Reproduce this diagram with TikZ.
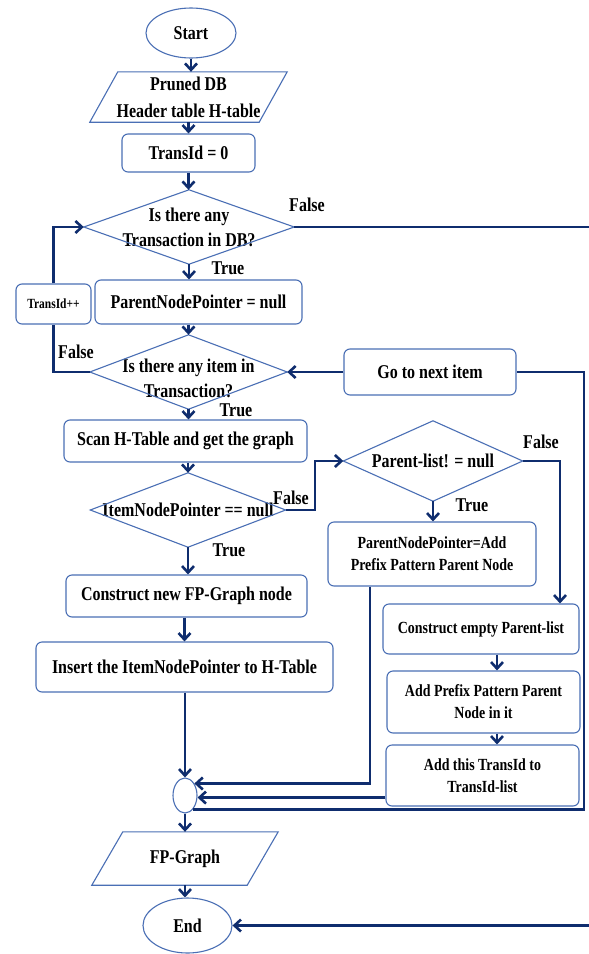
\documentclass[tikz,border=0pt]{standalone}
\usepackage{fontspec}
\setmainfont{Liberation Serif}[FakeStretch=0.82]
\usetikzlibrary{shapes.geometric,arrows.meta,calc}
\definecolor{boxc}{HTML}{4A6FB5}
\definecolor{linec}{HTML}{0F2D6E}
\newcommand{\myfs}[2]{\fontsize{#1}{#2}\selectfont\bfseries}
\begin{document}
\begin{tikzpicture}[x=1pt,y=-1pt,
  box/.style={draw=boxc,line width=1.1pt,rounded corners=6pt,align=center,inner sep=0pt,font=\myfs{19.5}{25}},
  term/.style={ellipse,draw=boxc,line width=1.1pt,inner sep=0pt,font=\myfs{19.5}{25}},
  plain/.style={inner sep=0pt,align=center,font=\myfs{19.5}{25}},
  outl/.style={draw=boxc,line width=1.1pt},
  conn/.style={draw=linec,line width=2.6pt},
  arr/.style={conn,-{Straight Barb[length=6.5pt,width=12pt]}},
  lbl/.style={font=\myfs{19.5}{22},inner sep=0pt}]
\useasboundingbox (0,0) rectangle (589,954);
\fill[white] (0,0) rectangle (589,954);

% nodes
\node[term,minimum width=90pt,minimum height=50pt] (start) at (191,33) {Start};
\node[plain,minimum width=197pt,minimum height=50pt,font=\myfs{19.5}{27}] (prune) at (188.5,97) {Pruned DB\\Header table H-table};
\draw[outl] ([xshift=28pt]prune.north west) -- (prune.north east) -- ([xshift=-28pt]prune.south east) -- (prune.south west) -- cycle;
\node[box,minimum width=133pt,minimum height=38pt] (t0) at (188.5,153) {TransId = 0};
\node[plain,minimum width=210pt,minimum height=74pt] (d1) at (189,227) {Is there any\\Transaction in DB?};
\draw[outl] (d1.north) -- (d1.east) -- (d1.south) -- (d1.west) -- cycle;
\node[box,minimum width=75pt,minimum height=40pt,font=\myfs{14}{16}] (tinc) at (53.5,304) {TransId++};
\node[box,minimum width=207pt,minimum height=44pt] (pnp) at (198.5,302) {ParentNodePointer = null};
\node[plain,minimum width=197pt,minimum height=74pt] (d2) at (188.5,372) {};
\node[plain] (d2t) at (188.5,378) {Is there any item in\\Transaction?};
\draw[outl] (d2.north) -- (d2.east) -- (d2.south) -- (d2.west) -- cycle;
\node[box,minimum width=172pt,minimum height=46pt] (go) at (430,372) {Go to next item};
\node[box,minimum width=243pt,minimum height=42pt] (scan) at (185.5,441) {Scan H-Table and get the graph};
\node[plain,minimum width=195pt,minimum height=74pt] (d3) at (188,510) {ItemNodePointer == null};
\draw[outl] (d3.north) -- (d3.east) -- (d3.south) -- (d3.west) -- cycle;
\node[plain,minimum width=179pt,minimum height=80pt] (plist) at (433,461) {Parent-list! = null};
\draw[outl] (plist.north) -- (plist.east) -- (plist.south) -- (plist.west) -- cycle;
\node[box,minimum width=208pt,minimum height=64pt,font=\myfs{17}{22}] (pnpa) at (432,554) {ParentNodePointer=Add\\Prefix Pattern Parent Node};
\node[box,minimum width=241pt,minimum height=42pt] (cnew) at (186.5,596) {Construct new FP-Graph node};
\node[box,minimum width=297pt,minimum height=50pt] (ins) at (184.5,667) {Insert the ItemNodePointer to H-Table};
\node[box,minimum width=196pt,minimum height=50pt,font=\myfs{17}{22}] (cempty) at (481,629) {Construct empty Parent-list};
\node[box,minimum width=193pt,minimum height=62pt,font=\myfs{17}{22}] (addp) at (483.5,702) {Add Prefix Pattern Parent\\Node in it};
\node[box,minimum width=193pt,minimum height=61pt,font=\myfs{17}{22}] (addt) at (482.5,775.5) {Add this TransId to\\TransId-list};
\node[term,minimum width=24pt,minimum height=35pt] (circ) at (185,795.5) {};
\node[plain,minimum width=186pt,minimum height=53pt] (fpg) at (185,858.5) {FP-Graph};
\draw[outl] ([xshift=31pt]fpg.north west) -- (fpg.north east) -- ([xshift=-31pt]fpg.south east) -- (fpg.south west) -- cycle;
\node[term,minimum width=89pt,minimum height=55pt] (end) at (187.5,925.5) {End};

% helper coordinates
\coordinate (redgeA) at (589,227);
\coordinate (redgeB) at (589,925.5);
\coordinate (rcol) at (584,0);
\coordinate (c315) at (315,0);
\coordinate (c560) at (560,0);
\coordinate (c370) at (370,0);
\coordinate (c497) at (497,0);
\coordinate (atin) at ([yshift=9pt]addt.south west);
\coordinate (cback) at (circ.-60);

% main column
\draw[arr] (start.south) -- (start.south |- prune.north);
\draw[arr] (prune.south) -- (t0.north);
\draw[arr] (t0.south) -- (t0.south |- d1.north);
\draw[arr] (d1.south) -- (d1.south |- pnp.north);
\draw[arr] (d2.north |- pnp.south) -- (d2.north);
\draw[arr] (d2.south) -- (d2.south |- scan.north);
\draw[arr] (d3.north |- scan.south) -- (d3.north);
\draw[arr] (d3.south) -- (d3.south |- cnew.north);
\draw[arr] (ins.north |- cnew.south) -- (ins.north);
\draw[arr] (circ.north |- ins.south) -- (circ.north);
\draw[arr] (circ.south) -- (circ.south |- fpg.north);
\draw[arr] (fpg.south) -- (fpg.south |- end.north);

% exits to the right edge
\draw[conn] (d1.east) -- (redgeA);
\draw[arr] (redgeB) -- (end.east);

% transaction loop
\draw[conn] (d2.west) -| (tinc.south);
\draw[arr] (tinc.north) |- (d1.west);

% item loop
\draw[arr] (go.west) -- (d2.east);
\draw[conn] (cback) -- (cback -| rcol) |- (go.east);

% right branch
\draw[arr] (d3.east) -- (d3.east -| c315) |- (plist.west);
\draw[arr] (plist.east) -| (c560 |- cempty.north);
\draw[arr] (plist.south) -- (plist.south |- pnpa.north);
\draw[arr] (c370 |- pnpa.south) |- (circ.52);
\draw[arr] (c497 |- cempty.south) -- (c497 |- addp.north);
\draw[arr] (c497 |- addp.south) -- (c497 |- addt.north);
\draw[arr] (atin) -- (atin -| circ.east);

% labels
\node[lbl] (lf1) at (307,205) {False};
\node[lbl] (lt1) at (228,268) {True};
\node[lbl] (lf2) at (76,352) {False};
\node[lbl] (lt2) at (236,410) {True};
\node[lbl] (lf3) at (291,498) {False};
\node[lbl] (lt3) at (229,550) {True};
\node[lbl] (lf4) at (541,442) {False};
\node[lbl] (lt4) at (472,505) {True};
\end{tikzpicture}
\end{document}
